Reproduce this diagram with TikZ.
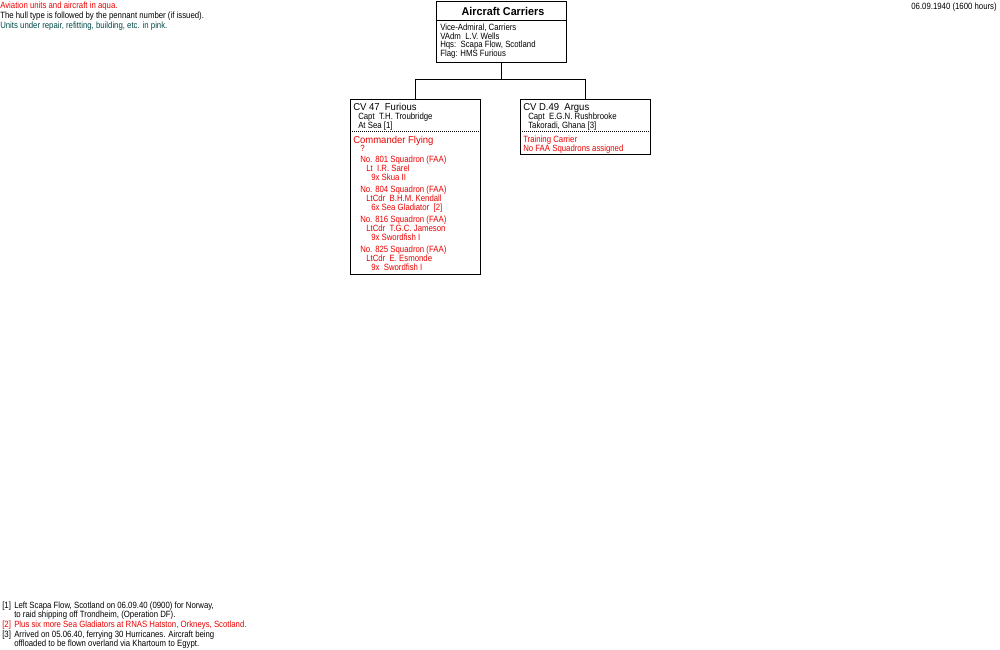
\documentclass[tikz,border=0pt]{standalone}
\usepackage{fontspec}
\setmainfont{Liberation Sans}
\newfontfamily\pixfont{Liberation Sans}[FakeStretch=0.86]
\newfontfamily\pixbig{Liberation Sans}[FakeStretch=0.95]
\definecolor{airred}{RGB}{235,0,0}
\definecolor{refitteal}{RGB}{0,72,72}
\tikzset{
  unitbox/.style={draw, line width=0.75pt, anchor=north west, inner sep=0pt, minimum width=97.5pt},
  txt/.style={anchor=base west, inner sep=0pt, font=\pixfont\fontsize{6.8}{7}\selectfont},
  bigtxt/.style={anchor=base west, inner sep=0pt, font=\pixbig\fontsize{7.5}{8}\selectfont},
  air/.style={text=airred},
  dotsep/.style={line width=0.75pt, dash pattern=on 0.75pt off 0.75pt},
  solidsep/.style={line width=0.75pt},
}
\begin{document}
\begin{tikzpicture}[x=0.75pt,y=-0.75pt]
        \useasboundingbox (0,0) rectangle (1000,650);
        % boxes
        \node[unitbox, minimum height=46pt] (hq) at (436,0.5) {};
        \node[unitbox, minimum height=131.25pt] (furious) at (350,99) {};
        \node[unitbox, minimum height=41.25pt] (argus) at (520,99) {};
        % connectors
        \draw[solidsep] (hq.south) -- ++(0,17) -| (furious.north);
        \draw[solidsep] (hq.south) -- ++(0,17) -| (argus.north);
        % separators
        \draw[solidsep] (436,20) -- (566,20);
        \draw[dotsep] (350,131) -- (480,131);
        \draw[dotsep] (520,131) -- (650,131);
        % headquarters
        \node[anchor=base, inner sep=0pt, font=\pixbig\bfseries\fontsize{8.5}{9}\selectfont]
            (hqtitle) at (503,15) {Aircraft Carriers};
        \foreach \y/\t [count=\i] in {30.5/{Vice-Admiral, Carriers}, 39.2/{VAdm\ \ L.V. Wells},
            47.9/{Hqs:\ \ Scapa Flow, Scotland}, 56.6/{Flag: HMS Furious}}
            \node[txt] (hq\i) at (440,\y) {\t};
        % Furious
        \node[bigtxt] (furname) at (353,110) {CV 47\ \ Furious};
        \node[txt] (furcapt) at (358,119) {Capt\ \ T.H. Troubridge};
        \node[txt] (furloc) at (358,128) {At Sea [1]};
        \node[bigtxt,air] (furcf) at (353,143) {Commander Flying};
        \node[txt,air] (furcfname) at (360,151) {?};
        \foreach \n/\y/\cmd/\ac in {801/162/{Lt\ \ I.R. Sarel}/{9x Skua II},
            804/192/{LtCdr\ \ B.H.M. Kendall}/{6x Sea Gladiator\ \ [2]},
            816/222/{LtCdr\ \ T.G.C. Jameson}/{9x Swordfish I},
            825/252/{LtCdr\ \ E. Esmonde}/{9x\ \ Swordfish I}}{
            \node[txt,air] (sq\n) at (360,\y) {No. \n\ Squadron (FAA)};
            \node[txt,air] (cdr\n) at (366,\y+9) {\cmd};
            \node[txt,air] (ac\n) at (371,\y+18) {\ac};
        }
        % Argus
        \node[bigtxt] (argname) at (523,110) {CV D.49\ \ Argus};
        \node[txt] (argcapt) at (528,119) {Capt\ \ E.G.N. Rushbrooke};
        \node[txt] (argloc) at (528,128) {Takoradi, Ghana [3]};
        \node[txt,air] (argrole) at (523,142) {Training Carrier};
        \node[txt,air] (argsq) at (523,151) {No FAA Squadrons assigned};
        % legend and date
        \node[txt,air] (key1) at (0,8) {Aviation units and aircraft in aqua.};
        \node[txt] (key2) at (0,18) {The hull type is followed by the pennant number (if issued).};
        \node[txt,text=refitteal] (key3) at (0,28) {Units under repair, refitting, building, etc. in pink.};
        \node[txt,anchor=base east] (date) at (997,9) {06.09.1940 (1600 hours)};
        % notes
        \node[txt] (n1) at (2,608) {[1]};
        \node[txt] (n1a) at (14,608) {Left Scapa Flow, Scotland on 06.09.40 (0900) for Norway,};
        \node[txt] (n1b) at (14,617) {to raid shipping off Trondheim, (Operation DF).};
        \node[txt,air] (n2) at (2,627) {[2]};
        \node[txt,air] (n2a) at (14,627) {Plus six more Sea Gladiators at RNAS Hatston, Orkneys, Scotland.};
        \node[txt] (n3) at (2,637) {[3]};
        \node[txt] (n3a) at (14,637) {Arrived on 05.06.40, ferrying 30 Hurricanes. Aircraft being};
        \node[txt] (n3b) at (14,646) {offloaded to be flown overland via Khartoum to Egypt.};
    \end{tikzpicture}
\end{document}
